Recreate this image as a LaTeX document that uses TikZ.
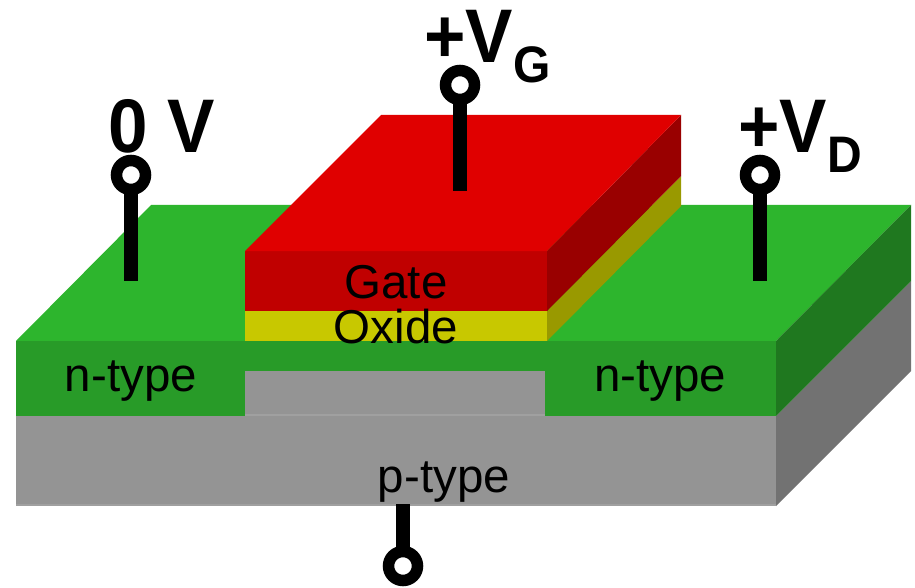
\documentclass[tikz,border=0pt]{standalone}
\usepackage{fontspec}
\setmainfont{Liberation Sans}
\newcommand*{\lft   }{16}
\newcommand*{\rgt   }{776}
\newcommand*{\chl   }{245}
\newcommand*{\chr   }{545}
\newcommand*{\gtr   }{547}
\newcommand*{\dpt   }{135}
\newcommand*{\pinfont}{\fontsize{71}{71}\selectfont\bfseries}
\newcommand*{\subfont}{\fontsize{48}{48}\selectfont\bfseries}
\newcommand*{\volt}[1]{\scalebox{1}[1.07]{#1}}
\definecolor{topgreen}{HTML}{2DB52D}
\definecolor{frontgreen}{HTML}{289B28}
\definecolor{sidegreen}{HTML}{1F781F}
\definecolor{frontgrey}{HTML}{949494}
\definecolor{sidegrey}{HTML}{727272}
\definecolor{edgegrey}{HTML}{A0A0A0}
\definecolor{topred}{HTML}{E00000}
\definecolor{frontred}{HTML}{C00000}
\definecolor{sidered}{HTML}{990000}
\definecolor{frontyellow}{HTML}{C8C800}
\definecolor{sideyellow}{HTML}{999900}

\begin{document}
\begin{tikzpicture}[x=1pt, y=-1pt, font=\fontsize{47.5}{50}\selectfont,
    pin/.style    = {circle, draw=black, fill=white, line width=11.5pt, minimum size=29pt, inner sep=0pt, outer sep=0pt},
    pinline/.style= {line width=14pt, black},
    pinlabel/.style={anchor=base west, inner sep=0pt, font=\pinfont}]
    \useasboundingbox [fill=white] (0,0) rectangle (915,588);
    % substrate
    \fill [frontgrey] (\lft,416) rectangle (\rgt,505);
    \fill [sidegrey] (\rgt,416) -- ++(\dpt,-135) -- ++(0,90) -- ++(-\dpt,135) -- cycle;
    \fill [edgegrey] (\lft,503.5) rectangle (\rgt,505.5);
    % n-type wells and channel
    \fill [topgreen] (\lft,341) -- ++(\dpt,-136) -- (911,205) -- (\rgt,341) -- cycle;
    \fill [sidegreen] (\rgt,341) -- (911,205) -- ++(0,76) -- (\rgt,416) -- cycle;
    \fill [frontgreen] (\lft,341) rectangle (\chl,416);
    \fill [frontgreen] (\chr,341) rectangle (\rgt,416);
    \fill [frontgreen] (\chl,341) rectangle (\chr,371);
    \fill [frontgrey] (\chl,371) rectangle (\chr,416);
    \fill [edgegrey] (\chl,414) rectangle (\chr,416);
    % oxide
    \fill [frontyellow] (\chl,311) rectangle (\gtr,341);
    \fill [sideyellow] (\gtr,311) -- (681,176) -- ++(0,30) -- (\gtr,341) -- cycle;
    % gate
    \fill [frontred] (\chl,251) rectangle (\gtr,311);
    \fill [sidered] (\gtr,251) -- (681,115) -- ++(0,61) -- (\gtr,311) -- cycle;
    \fill [topred] (\chl,251) -- (381,115) -- (681,115) -- (\gtr,251) -- cycle;
    % layer names
    \node (gatename)  at (396,282) {Gate};
    \node (oxidename) at (396,327) {Oxide};
    \node (nleft)     at (131,381) {n-type};
    \node (nright)    at (660,381) {n-type};
    \node (ptype)     at (444,482) {p-type};
    % terminals
    \node [pin] (sourcepin) at (131,175) {};
    \node [pin] (gatepin)   at (460,85)  {};
    \node [pin] (drainpin)  at (760,175) {};
    \node [pin] (bulkpin)   at (403,566) {};
    \coordinate (sourceend) at (131,281);
    \coordinate (gateend)   at (460,191);
    \coordinate (drainend)  at (760,281);
    \coordinate (bulkend)   at (403,504);
    \draw [pinline] (sourcepin) -- (sourceend);
    \draw [pinline] (gatepin)   -- (gateend);
    \draw [pinline] (drainpin)  -- (drainend);
    \draw [pinline] (bulkpin)   -- (bulkend);
    \node [pinlabel] (sourcelabel) at (108,153) {\volt{0 V}};
    \node [pinlabel] (gatelabel)   at (424,63)  {\volt{+V}\raisebox{-20pt}{\subfont\volt{G}}};
    \node [pinlabel] (drainlabel)  at (738,153) {\volt{+V}\raisebox{-20pt}{\subfont\volt{D}}};
\end{tikzpicture}
\end{document}
